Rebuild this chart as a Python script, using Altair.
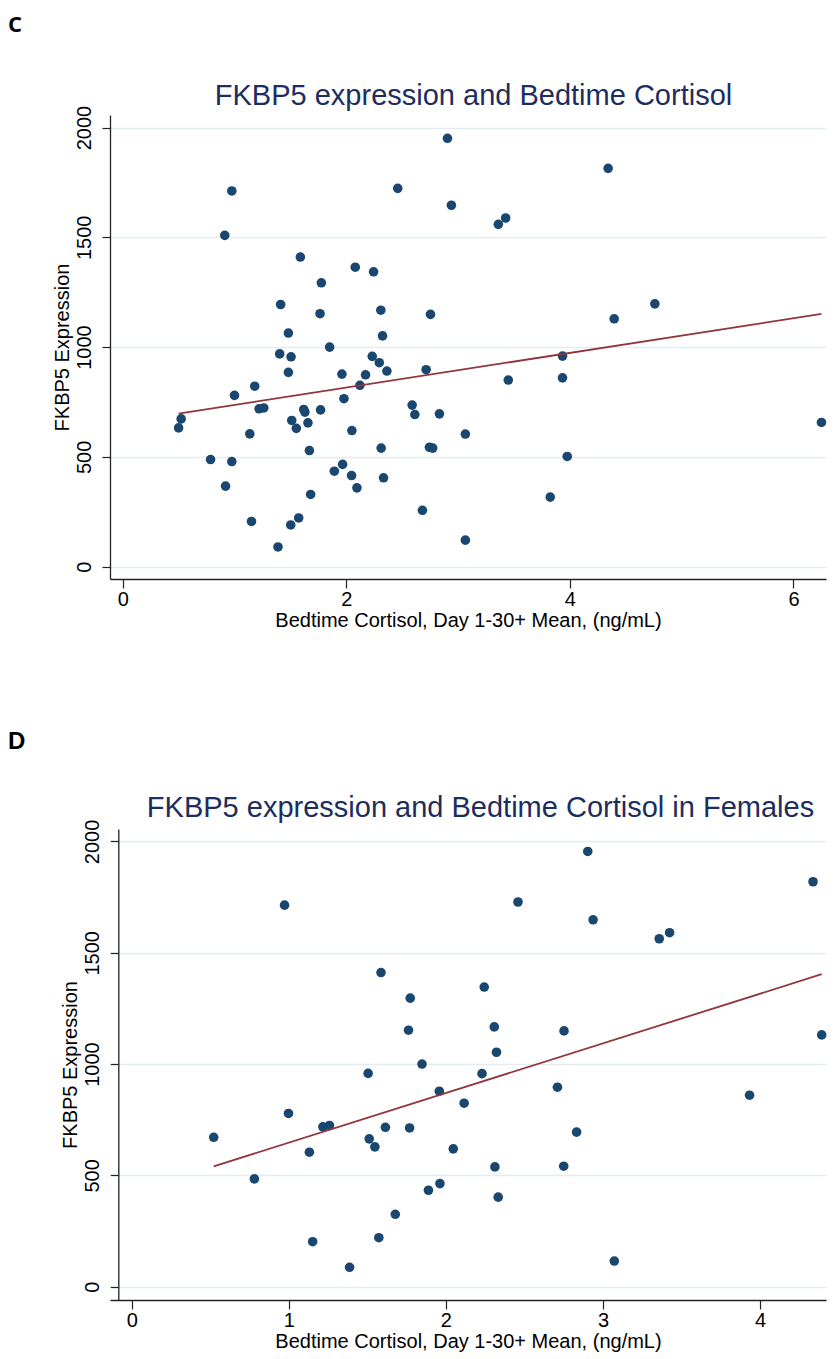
import altair as alt
import pandas as pd

# ---- Panel C: all participants ----
c_cortisol = [2.905, 0.976, 2.46, 2.94, 0.913, 1.589, 2.08, 2.244, 1.777, 1.413,
              1.765, 2.309, 2.753, 1.482, 2.324, 4.342, 3.425, 3.36, 4.76, 4.396,
              1.851, 1.404, 1.506, 2.232, 2.295, 2.363, 2.714, 1.482, 1.961, 2.172,
              2.122, 1.181, 1.0, 1.979, 1.22, 1.262, 1.619, 1.63, 1.77, 2.589,
              2.613, 2.833, 0.523, 0.5, 1.512, 1.657, 1.553, 1.137, 3.065, 2.05,
              1.67, 2.312, 2.744, 2.773, 0.786, 0.976, 1.967, 1.893, 2.047, 2.333,
              2.095, 0.92, 1.681, 2.681, 1.152, 1.574, 1.503, 1.389, 3.065, 3.934,
              3.934, 3.449, 3.976, 3.824, 6.25]
c_fkbp5 = [1951, 1711, 1723, 1646, 1509, 1410, 1364, 1343, 1293, 1194,
           1152, 1168, 1149, 1064, 1051, 1814, 1588, 1559, 1197, 1129,
           1000, 969, 956, 958, 929, 891, 897, 885, 877, 874,
           826, 822, 780, 765, 719, 723, 716, 704, 714, 736,
           693, 696, 673, 632, 666, 655, 630, 605, 604, 620,
           529, 540, 544, 540, 488, 479, 466, 435, 415, 405,
           359, 367, 329, 257, 206, 222, 190, 90, 121, 959,
           860, 850, 502, 317, 657]

# ---- Panel D: females ----
d_cortisol = [0.973, 1.587, 1.773, 1.762, 1.848, 1.505, 2.903, 2.459, 2.937, 3.358,
              3.424, 4.337, 2.244, 2.308, 2.752, 2.322, 4.392, 2.23, 1.958, 2.116,
              0.522, 0.998, 1.217, 1.259, 1.512, 1.548, 1.615, 1.769, 2.047, 1.131,
              0.781, 1.889, 1.962, 1.678, 1.573, 1.152, 1.387, 2.71, 2.832, 2.312,
              2.75, 2.333, 3.072, 3.933]
d_fkbp5 = [1714, 1411, 1296, 1152, 1000, 958, 1955, 1728, 1648, 1563,
           1590, 1819, 1346, 1167, 1149, 1053, 1131, 957, 878, 824,
           671, 778, 718, 724, 664, 628, 716, 713, 619, 604,
           484, 433, 463, 325, 220, 202, 87, 896, 694, 538,
           541, 402, 115, 860]

y_ticks = [0, 500, 1000, 1500, 2000]
c_x_ticks = [0, 2, 4, 6]
d_x_ticks = [0, 1, 2, 3, 4]

X_TITLE = "Bedtime Cortisol, Day 1-30+ Mean, (ng/mL)"
Y_TITLE = "FKBP5 Expression"
FONT = "Liberation Sans"
NAVY = "#1a476f"
MAROON = "#90353b"
TITLE_COLOR = "#1c2d5e"


def panel(xs, ys, letter, letter_font, letter_size, letter_xy, title, title_xy,
          xdomain, xticks, ydomain, width, height, y_offset):
    df = pd.DataFrame({"cortisol": xs, "fkbp5": ys})
    x_enc = alt.X(
        "cortisol:Q",
        scale=alt.Scale(domain=xdomain, nice=False, zero=False),
        axis=alt.Axis(values=xticks, title=X_TITLE, grid=False, format="d",
                      tickSize=9, labelPadding=1.5, titlePadding=1.3,
                      labelFontSize=20, titleFontSize=20,
                      titleFontWeight="normal"),
    )
    y_enc = alt.Y(
        "fkbp5:Q",
        scale=alt.Scale(domain=ydomain, nice=False, zero=False),
        axis=alt.Axis(values=y_ticks, title=Y_TITLE, grid=True, format="d",
                      tickSize=8, labelAngle=270, labelAlign="center",
                      labelBaseline="alphabetic", labelPadding=12,
                      titlePadding=2, labelFontSize=20, titleFontSize=20,
                      titleFontWeight="normal", offset=y_offset),
    )
    base = alt.Chart(df)
    line = base.transform_regression("cortisol", "fkbp5").mark_line(
        color=MAROON, strokeWidth=1.8
    ).encode(x=alt.X("cortisol:Q"), y=alt.Y("fkbp5:Q"))
    pts = base.mark_circle(size=92, color=NAVY, opacity=1).encode(x=x_enc, y=y_enc)

    letter_chart = alt.Chart(pd.DataFrame({"label": [letter]})).mark_text(
        font=letter_font, fontSize=letter_size, fontWeight="bold", color="black",
        align="left", baseline="alphabetic",
    ).encode(text="label:N", x=alt.value(letter_xy[0]), y=alt.value(letter_xy[1]))

    title_chart = alt.Chart(pd.DataFrame({"label": [title]})).mark_text(
        font=FONT, fontSize=29, color=TITLE_COLOR, align="center",
        baseline="alphabetic",
    ).encode(text="label:N", x=alt.value(title_xy[0]), y=alt.value(title_xy[1]))

    return alt.layer(pts, line, letter_chart, title_chart).properties(
        width=width, height=height
    )


chart_c = panel(c_cortisol, c_fkbp5, "C", "Open Sans", 22, (-102, -83.3),
                "FKBP5 expression and Bedtime Cortisol", (363.5, -10.5),
                [-0.1136, 6.2907], c_x_ticks, [-56, 2057], 716, 464, 0)
chart_d = panel(d_cortisol, d_fkbp5, "D", FONT, 24, (-102, -80),
                "FKBP5 expression and Bedtime Cortisol in Females", (370.5, -11.6),
                [-0.1381, 4.4195], d_x_ticks, [-60, 2056], 716, 471, -8.3)

chart = alt.concat(chart_c, chart_d, columns=1, spacing=99).properties(
    padding={"top": 5, "left": 0, "right": 0, "bottom": 0},
    background="white",
).configure_view(stroke=None).configure_axis(
    labelFont=FONT, titleFont=FONT, labelFontSize=20, titleFontSize=20,
    labelColor="black", titleColor="black", titleFontWeight="normal",
    domainColor="#222222", domainWidth=1.3, tickColor="#222222", tickWidth=1.2,
    gridColor="#e3edf0", gridWidth=1.3,
)

chart.save("out.html", embed_options={"renderer": "svg", "actions": False})
